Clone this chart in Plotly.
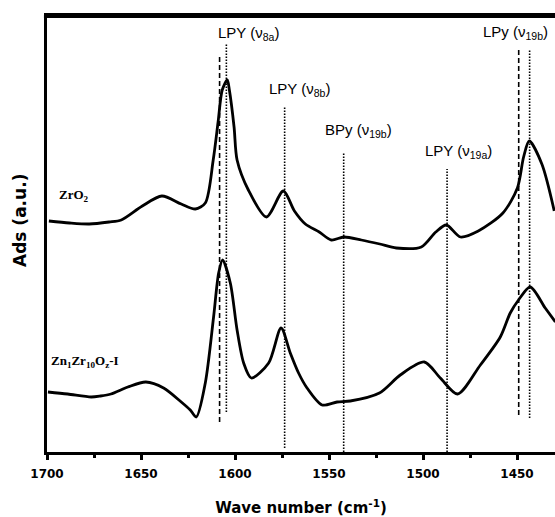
import plotly.graph_objects as go

# ---------------- data ----------------
top_wn = [1699.0, 1688, 1677.5, 1667, 1660.5, 1649.3, 1638.9, 1628.6, 1621.1, 1615.8,
          1611.6, 1609.0, 1606.8, 1604.1, 1603.0, 1600.5, 1598.9, 1592.9, 1583.3, 1574.3,
          1568.4, 1562.6, 1555.2, 1548.8, 1542.1, 1532.8, 1523, 1514.2, 1500.9, 1493.2,
          1487.6, 1480.1, 1470.6, 1457.5, 1449.8, 1446.5, 1443.5, 1436.8, 1430.2]
top_abs = [2.31, 2.29, 2.28, 2.30, 2.32, 2.46, 2.56, 2.48, 2.43, 2.49,
           2.92, 3.30, 3.62, 3.72, 3.62, 3.25, 2.92, 2.62, 2.35, 2.61,
           2.41, 2.28, 2.20, 2.12, 2.15, 2.12, 2.08, 2.04, 2.05, 2.20,
           2.27, 2.15, 2.21, 2.39, 2.64, 2.95, 3.11, 2.88, 2.41]

bot_wn = [1699.5, 1689, 1676.5, 1671.5, 1666, 1657, 1647.4, 1638.0, 1628.6, 1623.8,
          1620.6, 1615.8, 1611.4, 1608.7, 1606.6, 1602.5, 1598.9, 1595.4, 1591.3, 1582.1,
          1575.5, 1570.6, 1566.2, 1561.7, 1553.7, 1545.7, 1538.7, 1523.2, 1512.1, 1499.3,
          1490.8, 1481.6, 1469.5, 1458.9, 1453.6, 1449.2, 1443.0, 1435.0, 1429.6]
bot_abs = [0.60, 0.58, 0.55, 0.56, 0.58, 0.65, 0.70, 0.64, 0.50, 0.42,
           0.35, 0.69, 1.35, 1.79, 1.92, 1.69, 1.22, 0.89, 0.74, 0.89,
           1.24, 0.99, 0.79, 0.64, 0.47, 0.50, 0.51, 0.59, 0.77, 0.90,
           0.74, 0.58, 0.87, 1.15, 1.39, 1.52, 1.65, 1.44, 1.30]

# reference lines (wavenumber, top, bottom)
dashed_wn = [1608.2, 1449.1]
dashed_top = [3.97, 4.02]
dashed_bot = [0.30, 0.37]
dotted_wn = [1604.6, 1573.6, 1542.2, 1487.2, 1443.3]
dotted_top = [4.09, 3.46, 3.00, 2.83, 4.02]
dotted_bot = [0.40, 0.04, 0.0, 0.0, 0.34]

band_labels = ["LPY (ν<sub>8a</sub>)", "LPY (ν<sub>8b</sub>)", "BPy (ν<sub>19b</sub>)",
               "LPY (ν<sub>19a</sub>)", "LPy (ν<sub>19b</sub>)"]
band_label_x = [1592.7, 1565.5, 1534.4, 1481.2, 1450.6]
band_label_y = [4.19, 3.63, 3.22, 3.01, 4.20]

sample_labels = ["ZrO<sub>2</sub>", "Zn<sub>1</sub>Zr<sub>10</sub>O<sub>z</sub>-I"]
sample_label_x = [1694.7, 1699.1]
sample_label_y = [2.57, 0.91]

x_ticks = [1700, 1650, 1600, 1550, 1500, 1450]

# ---------------- figure ----------------
fig = go.Figure()

for wn, t, b in zip(dashed_wn, dashed_top, dashed_bot):
    fig.add_trace(go.Scatter(x=[wn, wn], y=[b, t], mode="lines",
                             line=dict(color="black", width=1.6, dash="5px,3px"),
                             hoverinfo="skip", showlegend=False))
for wn, t, b in zip(dotted_wn, dotted_top, dotted_bot):
    fig.add_trace(go.Scatter(x=[wn, wn], y=[b, t], mode="lines",
                             line=dict(color="black", width=1.6, dash="1.5px,1.5px"),
                             hoverinfo="skip", showlegend=False))

for xs, ys in ((top_wn, top_abs), (bot_wn, bot_abs)):
    fig.add_trace(go.Scatter(x=xs, y=ys, mode="lines",
                             line=dict(color="black", width=2.8, shape="spline", smoothing=0.8),
                             hoverinfo="skip", showlegend=False))

for t, x, y in zip(band_labels, band_label_x, band_label_y):
    fig.add_annotation(x=x, y=y, text=t, showarrow=False, xanchor="center", yanchor="middle",
                       font=dict(family="Liberation Sans, Arial", size=15, color="black"))

for t, x, y in zip(sample_labels, sample_label_x, sample_label_y):
    fig.add_annotation(x=x, y=y, text="<b>" + t + "</b>", showarrow=False,
                       xanchor="left", yanchor="middle",
                       font=dict(family="Liberation Serif, Times New Roman", size=13, color="black"))

fig.add_annotation(xref="paper", yref="paper", x=-0.053, y=0.53, text="<b>Ads (a.u.)</b>",
                   textangle=-90, showarrow=False, xanchor="center", yanchor="middle",
                   font=dict(family="DejaVu Sans", size=17, color="black"))

# top frame line (drawn as a filled rectangle)
fig.add_shape(type="rect", xref="paper", yref="paper", x0=-0.006, x1=1.0, y0=0.9955, y1=1.003,
              layer="above", fillcolor="black", line=dict(width=0))

fig.update_layout(
    width=555, height=517,
    margin=dict(l=47, r=0, t=16, b=65),
    paper_bgcolor="white", plot_bgcolor="white",
    xaxis=dict(range=[1700, 1429.8], tickvals=x_ticks,
               ticks="outside", ticklen=5, tickwidth=3, tickcolor="black",
               showline=True, linewidth=3, linecolor="black", mirror=True,
               showgrid=False, zeroline=False, ticklabelstandoff=4,
               minor=dict(dtick=25, tick0=1700, ticks="outside", ticklen=3, tickwidth=3,
                          tickcolor="black", showgrid=False),
               tickfont=dict(family="DejaVu Sans", size=12, color="black", weight="bold"),
               title=dict(text="<b>Wave number (cm<sup>-1</sup>)</b>", standoff=25,
                          font=dict(family="DejaVu Sans", size=15, color="black"))),
    yaxis=dict(range=[0, 4.36], showticklabels=False, ticks="", showgrid=False, zeroline=False,
               showline=True, linewidth=3, linecolor="black"),
)

fig.write_html("out.html")
